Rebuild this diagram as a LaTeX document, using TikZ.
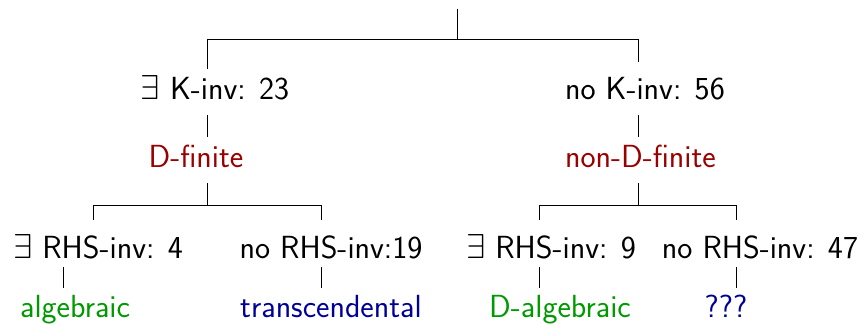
\documentclass[tikz,border=0pt]{standalone}
\usepackage{amsmath}
\usepackage{tikz}
\usetikzlibrary{arrows,positioning}

\begin{document}
\begin{tikzpicture}[x=0.5pt,y=-0.5pt]
    \tikzstyle{lab}=[inner sep=0pt, anchor=base, text height=11pt, text depth=0pt,
                     font=\sffamily\fontsize{16}{19}\selectfont]
    \tikzstyle{finite}=[text=red!60!black]
    \tikzstyle{algebraic}=[text=green!60!black]
    \tikzstyle{transc}=[text=blue!60!black]
    \tikzstyle{stem}=[shorten <=7.5pt, shorten >=4.5pt]
    \tikzstyle{leaf}=[shorten <=4pt, shorten >=4pt]
    \useasboundingbox (0,0) rectangle (865,324);
    % first split: K-invariants
    \node [lab] (kyes) at (215,100) {$\exists$ K-inv: 23};
    \node [lab] (kno) at (645,100) {no K-inv: 56};
    \node [lab, finite] (dfin) at (196,168) {D-finite};
    \node [lab, finite] (ndfin) at (640.5,168) {non-D-finite};
    % second split: RHS-invariants
    \node [lab] (ryes1) at (98,259) {$\exists$ RHS-inv: 4};
    \node [lab] (rno1) at (331,259) {no RHS-inv:19};
    \node [lab] (ryes2) at (551,259) {$\exists$ RHS-inv: 9};
    \node [lab] (rno2) at (760,259) {no RHS-inv: 47};
    \node [lab, algebraic] (alg) at (75,318) {algebraic};
    \node [lab, transc] (trans) at (331,318) {transcendental};
    \node [lab, algebraic] (dalg) at (560,318) {D-algebraic};
    \node [lab, transc] (unknown) at (726,318) {???};
    % branch points
    \coordinate (root) at (457,9);
    \coordinate (s0) at (457,39);
    \coordinate (s0l) at (207,39);
    \coordinate (s0r) at (638,39);
    \coordinate (s1) at (207,205);
    \coordinate (s1l) at (93,205);
    \coordinate (s1r) at (321,205);
    \coordinate (s2) at (638,205);
    \coordinate (s2l) at (539,205);
    \coordinate (s2r) at (736,205);
    % tree lines
    \draw (root) -- (s0);
    \draw (s0l) -- (s0r);
    \draw [shorten >=4.5pt] (s0l) -- (s0l |- kyes.north);
    \draw [shorten >=8pt] (s0r) -- (s0r |- kno.north);
    \draw [stem] (s0l |- kyes.south) -- (s0l |- dfin.north);
    \draw [stem] (s0r |- kno.south) -- (s0r |- ndfin.north);
    \draw [shorten <=7.5pt] (s1 |- dfin.south) -- (s1);
    \draw [shorten <=7.5pt] (s2 |- ndfin.south) -- (s2);
    \draw (s1l) -- (s1r);
    \draw (s2l) -- (s2r);
    \draw [shorten >=8.5pt] (s1l) -- (s1l |- ryes1.north);
    \draw [shorten >=8.5pt] (s1r) -- (s1r |- rno1.north);
    \draw [shorten >=8.5pt] (s2l) -- (s2l |- ryes2.north);
    \draw [shorten >=8.5pt] (s2r) -- (s2r |- rno2.north);
    \draw [leaf] (63,0 |- ryes1.south) -- (63,0 |- alg.north);
    \draw [leaf] (s1r |- rno1.south) -- (s1r |- trans.north);
    \draw [leaf] (s2l |- ryes2.south) -- (s2l |- dalg.north);
    \draw [leaf] (s2r |- rno2.south) -- (s2r |- unknown.north);
\end{tikzpicture}
\end{document}
